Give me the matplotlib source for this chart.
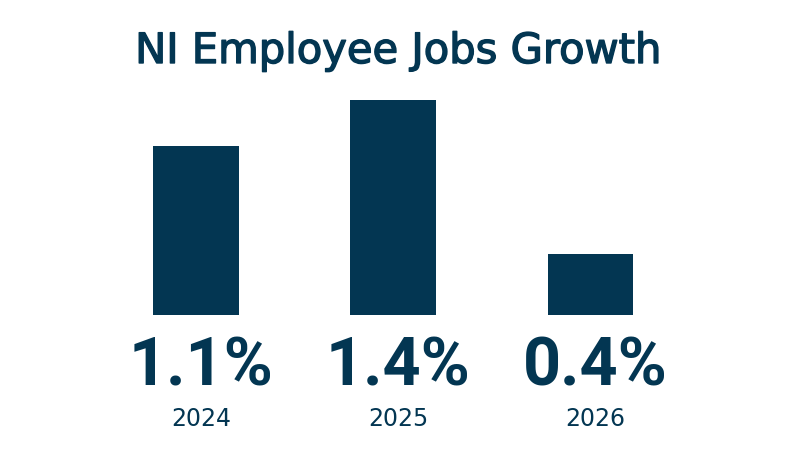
import matplotlib
matplotlib.use("Agg")
import matplotlib.pyplot as plt
import matplotlib.patheffects as pe

years = ["2024", "2025", "2026"]
growth = [1.1, 1.4, 0.4]
title = "NI Employee Jobs Growth"

color = "#033652"

fig = plt.figure(figsize=(8, 4.5), dpi=100)
fig.patch.set_facecolor("white")

# axes mapped so that bar centres land where the reference puts them
px_per_unit_x = 197.25
x0_px = 196
ax = fig.add_axes([0, 135 / 450, 1, (153.5 * 1.5) / 450])
ax.set_xlim(-x0_px / px_per_unit_x, (800 - x0_px) / px_per_unit_x)
ax.set_ylim(0, 1.5)
ax.axis("off")

xs = list(range(len(years)))
ax.bar(xs, growth, width=0.435, color=color)

fig.text(0.4975, 1 - 51 / 450, title, ha="center", va="center",
         fontsize=30, color=color, family="DejaVu Sans",
         path_effects=[pe.withStroke(linewidth=1.0, foreground=color)])

label_shift = 0.025
for x, v, y in zip(xs, growth, years):
    xd = ax.transData.transform((x + label_shift, 0))[0] / 800
    fig.text(xd, 1 - 368 / 450, f"{v:.1f}%", ha="center", va="center",
             fontsize=48, color=color, family="Roboto", fontweight="bold")
    fig.text(xd, 1 - 419.5 / 450, y, ha="center", va="center",
             fontsize=17, color=color, family="DejaVu Sans")

fig.savefig("out.png", dpi=100, facecolor="white")
